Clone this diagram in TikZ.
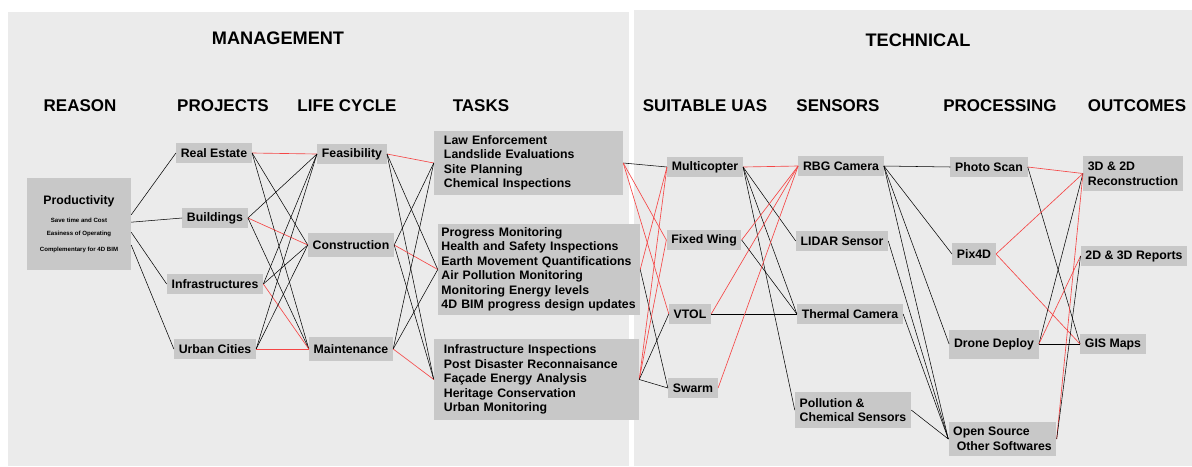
\documentclass[tikz,border=0pt]{standalone}
\usepackage{fontspec}
\setmainfont{Liberation Sans}
\usepackage{xcolor}
\usetikzlibrary{positioning}

\definecolor{panelgray}{RGB}{235,235,235}
\definecolor{boxgray}{RGB}{200,200,200}
\definecolor{linkred}{RGB}{245,70,70}

\begin{document}
\begin{tikzpicture}
      [ x=0.03cm, y=-0.03cm,
        box/.style={fill=boxgray, font=\bfseries\fontsize{10.5}{12.4}\selectfont,
                    inner xsep=4pt, inner ysep=0pt, minimum height=0.6cm},
        list/.style={box, align=left},
        head/.style={font=\bfseries\fontsize{14.5}{16}\selectfont},
        title/.style={font=\bfseries\fontsize{15.5}{18}\selectfont},
        link/.style={draw=black, line width=0.45pt},
        hot/.style={draw=linkred, line width=0.55pt}
      ]
      \useasboundingbox (0,0) rectangle (1192,466);
      \fill[white]     (0,0)    rectangle (1192,466);
      \fill[panelgray] (8,12)   rectangle (629,466);
      \fill[panelgray] (634,10) rectangle (1192,466);

      % headings
      \node[title] (manage) at (278,38)  {MANAGEMENT};
      \node[title] (techn)  at (918,40)  {TECHNICAL};
      \node[head]  (hreas)  at (80,106)  {REASON};
      \node[head]  (hproj)  at (223,106) {PROJECTS};
      \node[head]  (hlife)  at (347,106) {LIFE CYCLE};
      \node[head]  (htask)  at (481,106) {TASKS};
      \node[head]  (huas)   at (705,106) {SUITABLE UAS};
      \node[head]  (hsens)  at (838,106) {SENSORS};
      \node[head]  (hproc)  at (1000,106){PROCESSING};
      \node[head]  (hout)   at (1137,106){OUTCOMES};

      % management side
      \node[box, align=center, minimum width=3.12cm, minimum height=2.76cm]
            (prod) at (79,224)
            {Productivity\\[3pt]
             {\fontsize{5.2}{6}\selectfont Save time and Cost}\\[-1.2pt]
             {\fontsize{5.2}{6}\selectfont Easiness of Operating}\\[1.6pt]
             {\fontsize{5.2}{6}\selectfont Complementary for 4D BIM}};

      \node[box] (re) at (214,153) {Real Estate};
      \node[box] (bu) at (215,218) {Buildings};
      \node[box] (in) at (215,284) {Infrastructures};
      \node[box] (ur) at (215,349) {Urban Cities};

      \node[box]                      (fe) at (352,154) {Feasibility};
      \node[box, minimum height=0.72cm] (co) at (351,245) {Construction};
      \node[box, minimum height=0.72cm] (ma) at (351,349) {Maintenance};

      \node[list, text width=5.07cm, inner xsep=0.3cm, minimum height=1.92cm]
            (t1) at (528.5,163)
            {Law Enforcement\\Landslide Evaluations\\Site Planning\\Chemical Inspections};
      \node[list, text width=5.85cm, inner xsep=0.105cm, minimum height=2.73cm]
            (t2) at (539,269.5)
            {Progress Monitoring\\Health and Safety Inspections\\Earth Movement Quantifications\\
             Air Pollution Monitoring\\Monitoring Energy levels\\4D BIM progress design updates};
      \node[list, text width=5.55cm, inner xsep=0.3cm, minimum height=2.43cm]
            (t3) at (536.5,379.5)
            {Infrastructure Inspections\\Post Disaster Reconnaisance\\Fa\c{c}ade Energy Analysis\\
             Heritage Conservation\\Urban Monitoring};

      % technical side
      \node[box] (mc) at (705,167) {Multicopter};
      \node[box] (fw) at (704,240) {Fixed Wing};
      \node[box] (vt) at (690,314) {VTOL};
      \node[box] (sw) at (693,388) {Swarm};

      \node[box]  (rgb) at (841,166) {RBG Camera};
      \node[box]  (li)  at (842,241) {LIDAR Sensor};
      \node[box]  (th)  at (850,314) {Thermal Camera};
      \node[list, minimum height=1.08cm] (po) at (853,410) {Pollution \&\\Chemical Sensors};

      \node[box]  (ps) at (989,167) {Photo Scan};
      \node[box, minimum height=0.66cm] (px) at (974,254) {Pix4D};
      \node[box, minimum height=0.87cm] (dd) at (994,344) {Drone Deploy};
      \node[list, minimum height=1.02cm] (os) at (1002.5,439) {Open Source\\\hspace*{3pt}Other Softwares};

      \node[list, minimum height=1.05cm] (rc)  at (1133,173.5) {3D \& 2D\\Reconstruction};
      \node[box]                         (rep) at (1134,256)   {2D \& 3D Reports};
      \node[box]                         (gis) at (1113,344)   {GIS Maps};

      % connectors
      \path[link] (prod.10)  edge (re.west)
                  (prod.2)   edge (bu.west)
                  (prod.-9)  edge (in.west)
                  (prod.-22) edge (ur.west);

      \path[link] (re.east) edge[hot] (fe.west)
                            edge      (co.west)
                            edge      (ma.west)
                  (bu.east) edge      (fe.west)
                            edge[hot] (co.west)
                            edge      (ma.west)
                  (in.east) edge      (fe.west)
                            edge      (co.west)
                            edge[hot] (ma.west)
                  (ur.east) edge      (fe.west)
                            edge      (co.west)
                            edge[hot] (ma.west);

      \path[link] (fe.east) edge[hot] (t1.west)
                            edge      (t2.west)
                            edge      (t3.west)
                  (co.east) edge      (t1.west)
                            edge[hot] (t2.west)
                            edge      (t3.west)
                  (ma.east) edge      (t1.west)
                            edge      (t2.west)
                            edge[hot] (t3.west);

      \path[link] (t1.east) edge      (mc.west)
                            edge[hot] (fw.west)
                            edge[hot] (vt.west)
                  (t2.east) edge[hot] (mc.west)
                            edge      (sw.west)
                  (t3.east) edge[hot] (mc.west)
                            edge[hot] (fw.west)
                            edge      (vt.west)
                            edge      (sw.west);

      \path[link] (mc.east) edge[hot] (rgb.west)
                            edge      (li.west)
                            edge      (th.west)
                            edge      (po.west)
                  (fw.east) edge[hot] (rgb.west)
                            edge      (th.west)
                  (vt.east) edge[hot] (rgb.west)
                            edge      (th.west)
                  (sw.east) edge[hot] (rgb.west);

      \path[link] (rgb.east) edge (ps.west)
                             edge (px.west)
                             edge (dd.west)
                             edge (os.west)
                  (li.east)  edge (os.west)
                  (th.east)  edge (os.west)
                  (po.east)  edge (os.west);

      \path[link] (ps.east) edge[hot] (rc.west)
                            edge      (gis.west)
                  (px.east) edge[hot] (rc.west)
                            edge[hot] (gis.west)
                  (dd.east) edge      (rc.west)
                            edge[hot] (rep.west)
                            edge      (gis.west)
                  (os.east) edge[hot] (rc.west)
                            edge      (rep.west);
\end{tikzpicture}
\end{document}
